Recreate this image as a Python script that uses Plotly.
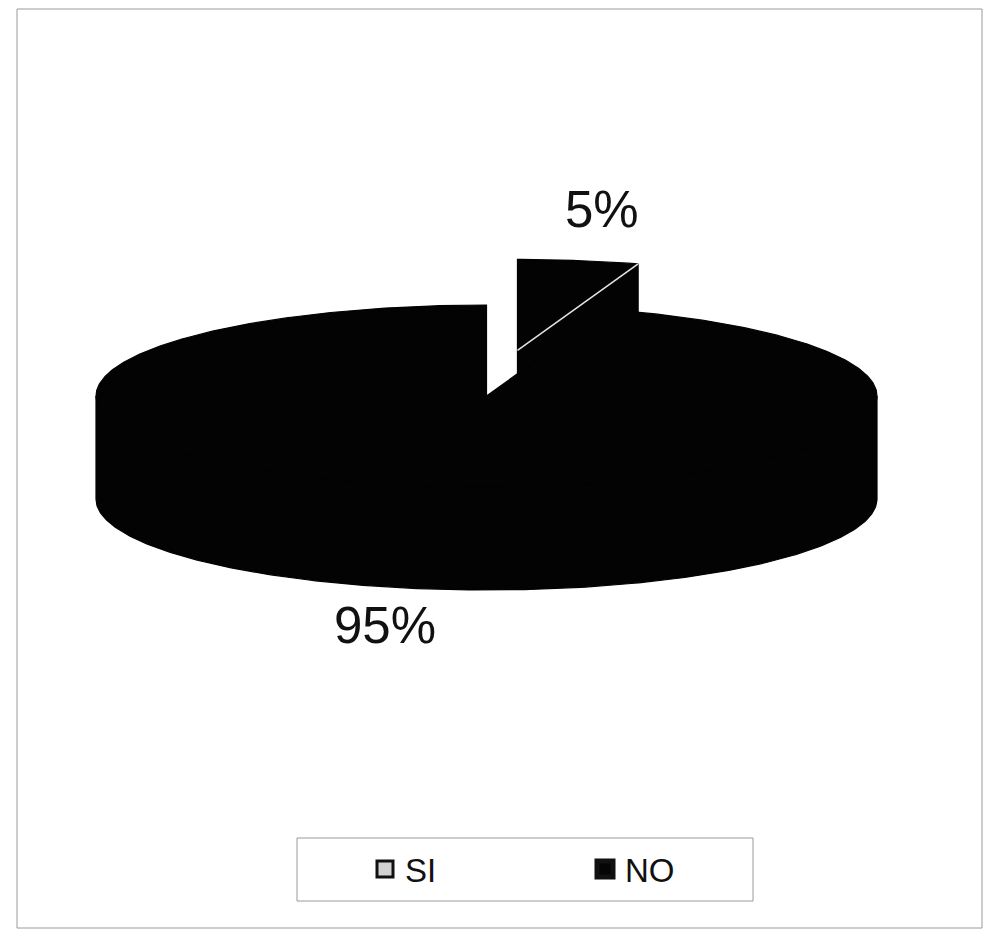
import numpy as np
import plotly.graph_objects as go

# Survey answers
labels = ["SI", "NO"]
values = [5, 95]
label_text = [f"{v}%" for v in values]

# Legend swatch colours and how far each wedge is pulled out
legend_fill = ["#d2d2d2", "#050505"]
legend_line = [3, 5]
explode = [0.507, 0.0]

W, H = 985, 932
FONT = "Liberation Sans, Arial, Helvetica, sans-serif"

# Projected disc: centre, radii of the top ellipse and thickness
CX, CY = 486.5, 396.0
RX, RY = 390.5, 91.0
DEPTH = 103.0
PIE_COLOR = "#030303"
EDGE_COLOR = "#e2e2e2"

# Label anchor points (screen px)
label_pos = [(602, 209), (385, 625)]


def rim(theta, ox, oy, dz=0.0):
    t = np.radians(theta)
    return CX + ox + RX * np.sin(t), CY + oy - RY * np.cos(t) + dz


def poly_trace(xs, ys):
    return go.Scatter(
        x=list(xs), y=list(ys), mode="lines", fill="toself",
        fillcolor=PIE_COLOR, line=dict(width=1.2, color=PIE_COLOR),
        hoverinfo="skip", showlegend=False,
    )


# Angular spans, clockwise from 12 o'clock
total = float(sum(values))
spans = []
acc = 0.0
for v in values:
    a = acc / total * 360.0
    acc += v
    b = acc / total * 360.0
    spans.append((a, b))

fig = go.Figure()

# Paint the wedges from back to front
order = sorted(range(len(values)),
               key=lambda i: -np.cos(np.radians(sum(spans[i]) / 2)))

for i in order:
    a, b = spans[i]
    mid = np.radians((a + b) / 2)
    ox = explode[i] * RX * np.sin(mid)
    oy = -explode[i] * RY * np.cos(mid)
    apx, apy = CX + ox, CY + oy

    # radial cut faces that face the viewer
    edges = []
    for ang, visible in ((a, np.sin(np.radians(a)) < -1e-9),
                         (b, np.sin(np.radians(b)) > 1e-9)):
        if not visible:
            continue
        rx0, ry0 = rim(ang, ox, oy)
        fig.add_trace(poly_trace(
            [apx, rx0, rx0, apx, apx],
            [apy, ry0, ry0 + DEPTH, apy + DEPTH, apy]))
        edges.append((rx0, ry0))

    # curved outer wall (front half only); its upper edge tucks slightly
    # under the top face so no seam shows between them
    s0, s1 = max(a, 90.0), min(b, 270.0)
    if s1 > s0:
        th = np.linspace(s0, s1, 240)
        tuck = -4.0 * np.abs(np.cos(np.radians(th)))
        tx, ty = rim(th, ox, oy, tuck)
        bx, by = rim(th[::-1], ox, oy, DEPTH)
        fig.add_trace(poly_trace(np.r_[tx, bx, tx[0]], np.r_[ty, by, ty[0]]))

    # top face
    th = np.linspace(a, b, max(int((b - a) * 2), 20))
    tx, ty = rim(th, ox, oy)
    fig.add_trace(poly_trace(np.r_[apx, tx, apx], np.r_[apy, ty, apy]))

    # light seam where the top meets a visible cut face
    for ex, ey in edges:
        fig.add_trace(go.Scatter(
            x=[apx, ex], y=[apy, ey], mode="lines",
            line=dict(color=EDGE_COLOR, width=1.6),
            hoverinfo="skip", showlegend=False))

# Legend entries
for lab, fc, lw in zip(labels, legend_fill, legend_line):
    fig.add_trace(go.Scatter(
        x=[None], y=[None], mode="markers", name=lab,
        marker=dict(symbol="square", size=16, color=fc,
                    line=dict(color="#111111", width=lw)),
    ))

# Percentage labels
for txt, (lx, ly) in zip(label_text, label_pos):
    fig.add_annotation(
        x=lx, y=ly, xref="x", yref="y", text=txt, showarrow=False,
        font=dict(family=FONT, size=51, color="#111111"),
        xanchor="center", yanchor="middle")

# Outer frame and legend box
fig.add_shape(type="rect", xref="x", yref="y", x0=17, y0=9, x1=982, y1=928,
              line=dict(color="#9a9a9a", width=1), layer="below")
fig.add_shape(type="rect", xref="x", yref="y", x0=297, y0=838, x1=753, y1=901,
              line=dict(color="#9a9a9a", width=1), layer="below")

fig.update_layout(
    width=W, height=H,
    margin=dict(l=0, r=0, t=0, b=0, autoexpand=False),
    paper_bgcolor="white", plot_bgcolor="white",
    xaxis=dict(range=[0, W], visible=False, fixedrange=True),
    yaxis=dict(range=[H, 0], visible=False, fixedrange=True),
    showlegend=True,
    legend=dict(
        orientation="h", xref="container", yref="container",
        x=365 / W, y=1 - 869 / H, xanchor="left", yanchor="middle",
        font=dict(family=FONT, size=33, color="#111111"),
        entrywidth=175, entrywidthmode="pixels",
        bgcolor="rgba(0,0,0,0)", borderwidth=0,
    ),
)

fig.write_html("out.html")
